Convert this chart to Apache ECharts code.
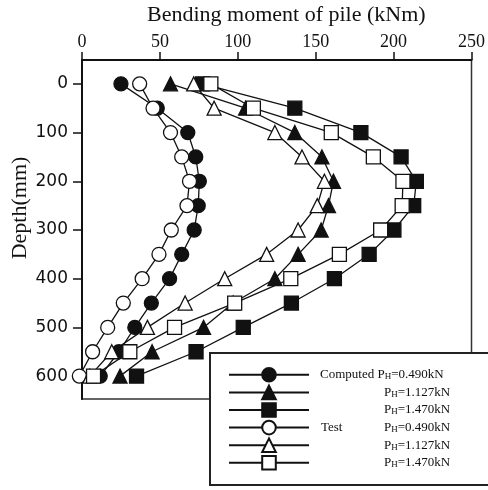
<!DOCTYPE html>
<html><head><meta charset="utf-8">
<script src="https://cdn.jsdelivr.net/npm/echarts@6/dist/echarts.min.js"></script>
<style>html,body{margin:0;padding:0;background:#fff}#c{width:488px;height:490px}</style>
</head><body><div id="c"></div>
<script>
const depths = [0, 50, 100, 150, 200, 250, 300, 350, 400, 450, 500, 550, 600];
const computed0490 = [25, 48.3, 67.9, 73, 75.3, 74.6, 72, 64, 56.2, 44.5, 33.9, 23.7, 11.7];
const computed1127 = [56.8, 105, 136.6, 154, 161.4, 158.2, 153.5, 138.7, 123.8, 97, 78, 45, 24.4];
const computed1470 = [77.4, 136.6, 179, 204.8, 214.6, 212.9, 200.2, 184.3, 162, 134.4, 103.5, 73.2, 35];
const test0490 = [37, 45.6, 56.8, 64, 69, 67.4, 57.3, 49.4, 38.6, 26.5, 16.5, 6.8, -1.7];
const test1127 = [71.7, 84.8, 123.8, 141.2, 155.6, 151, 138.7, 118.5, 91.6, 66.2, 42, 19.1, 5];
const test1470 = [82.7, 110, 160, 187, 206, 205.5, 191.7, 165.2, 134, 98, 59.4, 30.7, 7.4];
const depthTicks = [0, 100, 200, 300, 400, 500, 600];
const xTitle = 'Bending moment of pile (kNm)';
const yTitle = 'Depth(mm)';

const INK = '#111';
function pts(vals) { return vals.map((v, i) => [v, depths[i]]); }
function mk(name, vals, symbol, filled) {
  return {
    name, type: 'line', data: pts(vals), symbol, symbolSize: 14, clip: false,
    lineStyle: { color: INK, width: 1.3 },
    itemStyle: { color: filled ? INK : '#fff', borderColor: INK, borderWidth: 1.3 },
    emphasis: { disabled: true }, animation: false
  };
}
const labels = {
  c1: '{a0|Computed }{p|P}{s|H}{p|=0.490kN}',
  c2: '{a|}{p|P}{s|H}{p|=1.127kN}',
  c3: '{a|}{p|P}{s|H}{p|=1.470kN}',
  t1: '{a|Test}{p|P}{s|H}{p|=0.490kN}',
  t2: '{a|}{p|P}{s|H}{p|=1.127kN}',
  t3: '{a|}{p|P}{s|H}{p|=1.470kN}'
};
const serif = '"Liberation Serif", "Times New Roman", serif';
const chart = echarts.init(document.getElementById('c'));
chart.setOption({
  animation: false,
  backgroundColor: '#fff',
  title: { text: xTitle, left: 147, top: 4, padding: 0,
    textStyle: { fontFamily: serif, fontSize: 22, fontWeight: 'normal', color: INK } },
  grid: { left: 82, right: 13, top: 60, bottom: 91, show: true, borderColor: '#333', borderWidth: 1.5, backgroundColor: 'transparent' },
  xAxis: { type: 'value', position: 'top', min: 0, max: 250, interval: 50,
    axisLine: { show: true, onZero: false, lineStyle: { color: INK, width: 2 } },
    axisTick: { show: true, inside: false, length: 8, lineStyle: { color: INK, width: 1.5 } },
    axisLabel: { margin: 9, fontFamily: serif, fontSize: 18, color: INK },
    splitLine: { show: false } },
  yAxis: { type: 'value', inverse: true, min: -49, max: 647,
    axisLine: { show: true, onZero: false, lineStyle: { color: INK, width: 2 } },
    axisTick: { show: true, inside: false, length: 9, customValues: depthTicks, lineStyle: { color: INK, width: 1.5 } },
    axisLabel: { margin: 14, customValues: depthTicks, fontFamily: '"DejaVu Sans", sans-serif', fontSize: 17, color: INK },
    splitLine: { show: false } },
  legend: {
    z: 60, orient: 'vertical', left: 228, top: 367, padding: 0,
    itemWidth: 80, itemHeight: 17, itemGap: 2, selectedMode: false,
    data: ['c1', 'c2', 'c3', 't1', 't2', 't3'],
    formatter: n => labels[n],
    textStyle: { color: INK, fontFamily: serif, fontSize: 13,
      rich: {
        a0: { fontFamily: serif, fontSize: 13, color: INK, padding: [0, 0, 0, 6] },
        a: { fontFamily: serif, fontSize: 13, color: INK, width: 63, padding: [0, 0, 0, 7] },
        p: { fontFamily: serif, fontSize: 13, color: INK },
        s: { fontFamily: serif, fontSize: 9, color: INK, verticalAlign: 'bottom' }
      } }
  },
  graphic: [
    { type: 'rect', z: 50, shape: { x: 210, y: 353, width: 300, height: 132 },
      style: { fill: '#fff', stroke: '#222', lineWidth: 2 } },
    { type: 'text', x: 20, y: 208, rotation: Math.PI / 2, z: 50,
      style: { text: yTitle, font: '22px ' + serif, textAlign: 'center', textVerticalAlign: 'middle', fill: INK } }
  ],
  series: [
    mk('c1', computed0490, 'circle', true),
    mk('c2', computed1127, 'triangle', true),
    mk('c3', computed1470, 'rect', true),
    mk('t1', test0490, 'circle', false),
    mk('t2', test1127, 'triangle', false),
    mk('t3', test1470, 'rect', false)
  ]
});
</script></body></html>
